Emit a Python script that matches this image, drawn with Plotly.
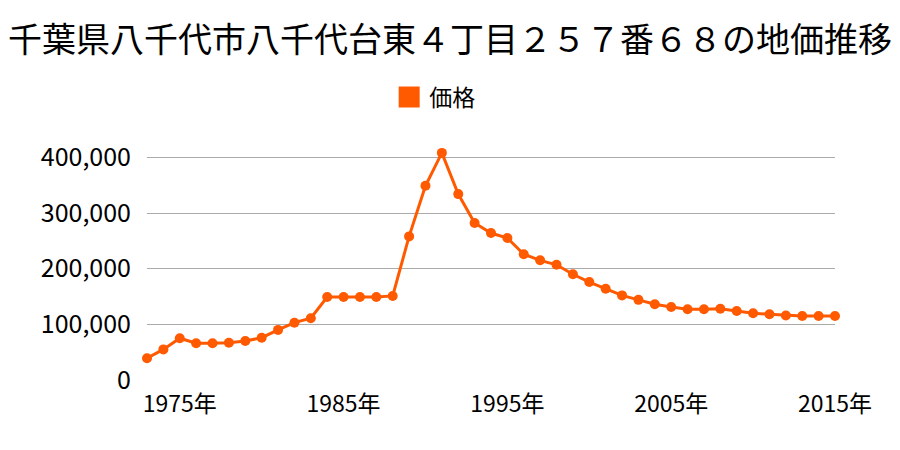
import plotly.graph_objects as go

years = list(range(1973, 2016))
prices = [39000, 55000, 75000, 66000, 66000, 67000, 70000, 76000, 90000, 103000,
          111000, 149000, 149000, 149000, 149000, 151000, 258000, 349000, 408000, 334000,
          282000, 264000, 255000, 226000, 215000, 207000, 190000, 176000, 164000, 152000,
          144000, 136000, 131000, 127000, 127000, 128000, 124000, 120000, 118000, 116000,
          115000, 115000, 115000]
tick_years = [1975, 1985, 1995, 2005, 2015]
tick_labels = [f"{y}年" for y in tick_years]
y_ticks = [0, 100000, 200000, 300000, 400000]
series_name = "価格"
title = "千葉県八千代市八千代台東４丁目２５７番６８の地価推移"

color = "#FF5A00"
font_family = "Noto Sans CJK JP, sans-serif"

fig = go.Figure()
fig.add_trace(go.Scatter(
    x=years, y=prices, mode="lines+markers",
    line=dict(color=color, width=3),
    marker=dict(color=color, size=10),
    showlegend=False, cliponaxis=False, name=series_name,
))
fig.add_trace(go.Scatter(
    x=[None], y=[None], mode="markers",
    marker=dict(color=color, size=16, symbol="square", line=dict(color=color, width=6)),
    name=series_name, showlegend=True,
))

fig.update_layout(
    width=900, height=450,
    paper_bgcolor="white", plot_bgcolor="white",
    margin=dict(l=147, r=65, t=149, b=70),
    font=dict(family=font_family, color="#000"),
    title=dict(text=title, x=0.5, xanchor="center", y=0.91, yanchor="middle",
               font=dict(size=34, family=font_family)),
    legend=dict(orientation="h", x=0.352, xanchor="left", y=1.225, yanchor="middle",
                font=dict(size=23), itemsizing="trace"),
    xaxis=dict(range=[1973, 2015], tickvals=tick_years, ticktext=tick_labels,
               showgrid=False, zeroline=False, showline=False, ticks="",
               tickfont=dict(size=23), ticklabelstandoff=8),
    yaxis=dict(range=[0, 415000], tickvals=y_ticks, tickformat=",d",
               showgrid=True, gridcolor="#AAAAAA", gridwidth=1,
               zeroline=False, showline=False, ticks="",
               tickfont=dict(size=25), ticklabelstandoff=15),
)

fig.write_html("out.html")
